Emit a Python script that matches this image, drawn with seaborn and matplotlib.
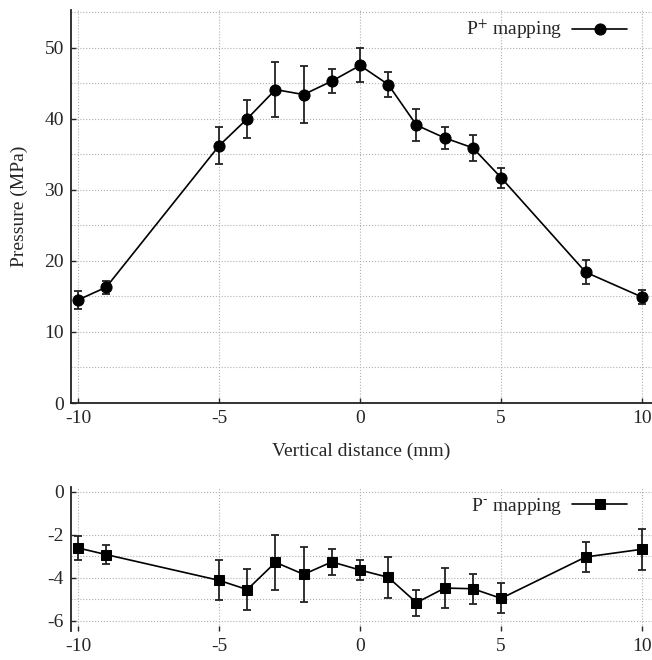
import numpy as np
import pandas as pd
import matplotlib
matplotlib.use("Agg")
import matplotlib.pyplot as plt
import seaborn as sns
from matplotlib.ticker import MultipleLocator, FixedLocator

distance = [-10, -9, -5, -4, -3, -2, -1, 0, 1, 2, 3, 4, 5, 8, 10]
p_plus = [14.5, 16.3, 36.2, 40.0, 44.1, 43.4, 45.3, 47.5, 44.8, 39.1, 37.3, 35.9, 31.7, 18.4, 14.9]
p_plus_err = [1.3, 0.9, 2.6, 2.7, 3.9, 4.0, 1.7, 2.4, 1.8, 2.3, 1.5, 1.8, 1.4, 1.7, 1.0]
p_minus = [-2.61, -2.92, -4.12, -4.55, -3.28, -3.84, -3.26, -3.64, -3.98, -5.16, -4.48, -4.51, -4.96, -3.03, -2.67]
p_minus_err = [0.56, 0.46, 0.93, 0.95, 1.28, 1.27, 0.62, 0.47, 0.95, 0.61, 0.93, 0.69, 0.70, 0.71, 0.96]

x_ticks = [-10, -5, 0, 5, 10]
top_yticks = [0, 10, 20, 30, 40, 50]
bottom_yticks = [0, -2, -4, -6]
bottom_minor = [-3, -5]

df = pd.DataFrame({"distance": distance, "p_plus": p_plus, "p_minus": p_minus})

sns.set_style("ticks")
plt.rcParams["font.family"] = ["Liberation Serif", "DejaVu Serif"]
plt.rcParams["mathtext.fontset"] = "stix"
plt.rcParams["axes.unicode_minus"] = False

FS = 14

fig = plt.figure(figsize=(6.52, 6.60), dpi=100)
ax1 = fig.add_axes([71 / 652, (660 - 403) / 660, 581 / 652, 393 / 660])
ax2 = fig.add_axes([71 / 652, (660 - 631) / 660, 581 / 652, 144 / 660])

grid_kw = dict(linestyle=":", color="#b0b0b0", linewidth=0.8)
leg_kw = dict(frameon=False, markerfirst=False, handlelength=2.8, handletextpad=0.5,
              fontsize=FS, borderaxespad=0.0)

# top panel
ax1.errorbar(df["distance"], df["p_plus"], yerr=p_plus_err, fmt="none",
             ecolor="#222222", elinewidth=1.3, capsize=3, capthick=1.3, zorder=2)
sns.lineplot(data=df, x="distance", y="p_plus", ax=ax1, color="black", linewidth=1.2,
             marker="o", markersize=8, markeredgecolor="black", label="P$^{+}$ mapping",
             zorder=3)
ax1.set_xlim(-10.25, 10.35)
ax1.set_ylim(0, 55.3)
ax1.set_xticks(x_ticks)
ax1.set_yticks(top_yticks)
ax1.yaxis.set_minor_locator(MultipleLocator(5))
ax1.grid(which="major", **grid_kw)
ax1.grid(which="minor", axis="y", **grid_kw)
ax1.set_axisbelow(True)
for s in ["top", "right"]:
    ax1.spines[s].set_visible(False)
for s in ["left", "bottom"]:
    ax1.spines[s].set_linewidth(1.3)
    ax1.spines[s].set_color("#222222")
ax1.tick_params(which="both", direction="in", labelsize=FS, pad=5, width=1.0)
ax1.tick_params(which="minor", length=0)
ax1.set_xlabel("Vertical distance (mm)", fontsize=FS)
ax1.set_ylabel("Pressure (MPa)", fontsize=FS)
ax1.xaxis.set_label_coords(0.5, -0.102)
ax1.yaxis.set_label_coords(-0.074, 0.5)
ax1.legend(loc="upper right", bbox_to_anchor=(0.970, 1.0), **leg_kw)

# bottom panel
ax2.errorbar(df["distance"], df["p_minus"], yerr=p_minus_err, fmt="none",
             ecolor="#222222", elinewidth=1.3, capsize=3, capthick=1.3, zorder=2)
sns.lineplot(data=df, x="distance", y="p_minus", ax=ax2, color="black", linewidth=1.2,
             marker="s", markersize=6.5, markeredgecolor="black",
             label="P$^{\\text{-}}$ mapping", zorder=3)
ax2.set_xlim(-10.25, 10.35)
ax2.set_ylim(-6.48, 0.23)
ax2.set_xticks(x_ticks)
ax2.set_yticks(bottom_yticks)
ax2.yaxis.set_minor_locator(FixedLocator(bottom_minor))
ax2.grid(which="major", **grid_kw)
ax2.grid(which="minor", axis="y", **grid_kw)
ax2.set_axisbelow(True)
for s in ["top", "right", "bottom"]:
    ax2.spines[s].set_visible(False)
ax2.spines["left"].set_linewidth(1.3)
ax2.spines["left"].set_color("#222222")
ax2.tick_params(which="both", direction="in", labelsize=FS, pad=5, width=1.0)
ax2.tick_params(which="minor", length=0)
ax2.set_xlabel("")
ax2.set_ylabel("")
ax2.legend(loc="upper right", bbox_to_anchor=(0.970, 0.99), **leg_kw)

fig.savefig("out.png", dpi=100)
